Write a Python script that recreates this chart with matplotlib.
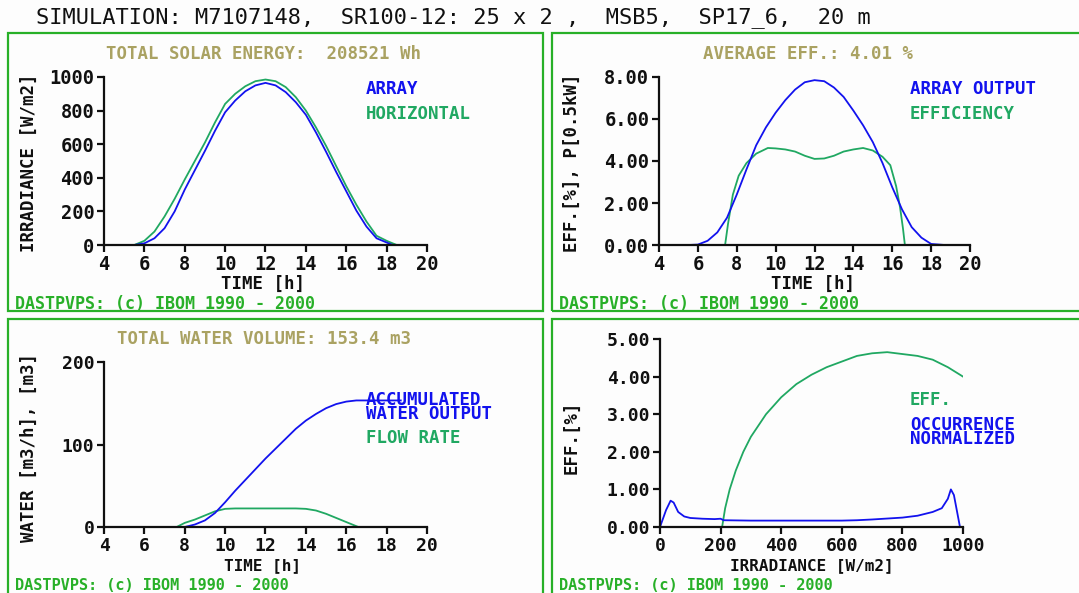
import matplotlib
matplotlib.use("Agg")
import matplotlib.pyplot as plt
from matplotlib.patches import Rectangle

# ---------------- data ----------------
# Panel 1: irradiance vs time
t_arr = [5.5, 6.0, 6.5, 7.0, 7.5, 8.0, 8.5, 9.0, 9.5, 10.0, 10.5, 11.0, 11.5, 12.0,
         12.5, 13.0, 13.5, 14.0, 14.5, 15.0, 15.5, 16.0, 16.5, 17.0, 17.5, 18.0, 18.3, 18.7]
irr_array = [0, 10, 40, 100, 200, 330, 445, 560, 680, 790, 860, 915, 950, 965,
             950, 910, 850, 775, 670, 555, 435, 320, 205, 110, 40, 15, 0, 0]
t_hor = [5.5, 6.0, 6.5, 7.0, 7.5, 8.0, 8.5, 9.0, 9.5, 10.0, 10.5, 11.0, 11.5, 12.0,
         12.5, 13.0, 13.5, 14.0, 14.5, 15.0, 15.5, 16.0, 16.5, 17.0, 17.5, 18.0, 18.5]
irr_hor = [0, 25, 80, 170, 275, 390, 500, 610, 730, 840, 900, 945, 975, 985,
           975, 940, 880, 800, 700, 590, 470, 350, 240, 140, 55, 25, 0]

# Panel 2: array output and efficiency vs time
t_out = [5.5, 6.0, 6.5, 7.0, 7.5, 8.0, 8.5, 9.0, 9.5, 10.0, 10.5, 11.0, 11.5, 12.0,
         12.5, 13.0, 13.5, 14.0, 14.5, 15.0, 15.5, 16.0, 16.5, 17.0, 17.5, 18.0, 18.7]
p_out = [0, 0.02, 0.2, 0.6, 1.3, 2.4, 3.6, 4.75, 5.6, 6.3, 6.9, 7.4, 7.75, 7.85,
         7.8, 7.5, 7.05, 6.4, 5.7, 4.9, 3.9, 2.75, 1.7, 0.85, 0.35, 0.05, 0]
t_eff = [5.5, 7.4, 7.55, 7.8, 8.1, 8.5, 9.0, 9.6, 10.0, 10.5, 11.0, 11.5, 12.0, 12.5,
         13.0, 13.5, 14.0, 14.5, 15.0, 15.5, 15.9, 16.2, 16.4, 16.55, 16.65, 18.7]
eff_t = [0, 0, 1.0, 2.4, 3.3, 3.9, 4.35, 4.62, 4.6, 4.55, 4.45, 4.25, 4.1, 4.12,
         4.25, 4.45, 4.55, 4.62, 4.5, 4.2, 3.8, 2.8, 1.8, 0.8, 0, 0]

# Panel 3: accumulated water and flow rate vs time
t_acc = [5.5, 8.0, 8.5, 9.0, 9.5, 10.0, 10.5, 11.0, 11.5, 12.0, 12.5, 13.0, 13.5,
         14.0, 14.5, 15.0, 15.5, 16.0, 16.5, 18.7]
acc_water = [0, 0, 3, 8, 17, 30, 44, 57, 70, 83, 95, 107, 119, 129, 137, 144, 149, 152, 153.4, 153.4]
t_flow = [7.6, 8.0, 8.5, 9.0, 9.5, 10.0, 10.5, 12.0, 13.5, 14.0, 14.5, 15.0, 15.5, 16.0, 16.6, 18.7]
flow_rate = [0, 5, 9, 14, 19, 22, 22.5, 22.5, 22.5, 22, 20, 16, 11, 6, 0, 0]

# Panel 4: efficiency and occurrence vs irradiance
g_eff = [0, 205, 215, 230, 250, 275, 300, 350, 400, 450, 500, 550, 600, 650, 700,
         750, 800, 850, 900, 950, 1000]
eff_g = [0, 0, 0.5, 1.0, 1.5, 2.0, 2.4, 3.0, 3.45, 3.8, 4.05, 4.25, 4.4, 4.55, 4.62,
         4.65, 4.6, 4.55, 4.45, 4.25, 4.0]
g_occ = [0, 20, 35, 45, 60, 80, 100, 140, 180, 200, 210, 300, 400, 500, 600, 650, 700,
         800, 850, 900, 930, 950, 960, 970, 990]
occ = [0, 0.45, 0.7, 0.65, 0.4, 0.28, 0.24, 0.22, 0.21, 0.22, 0.18, 0.17, 0.17, 0.17,
       0.17, 0.18, 0.2, 0.25, 0.3, 0.4, 0.5, 0.75, 1.0, 0.85, 0]

# ---------------- style ----------------
BLUE = "#1212ee"
GREEN = "#20a862"
OLIVE = "#aaa262"
FRAME = "#28b028"
BLACK = "#101010"
MONO = "DejaVu Sans Mono"
W, H = 1079, 593

fig = plt.figure(figsize=(W / 100, H / 100), dpi=100)
fig.patch.set_facecolor("#fdfdfd")


def px(x, y):
    return x / W, 1 - y / H


def ftext(x, y, s, color=BLACK, size=12.5, weight="bold", ha="left", va="center", rot=0,
          linespacing=1.2):
    fx, fy = px(x, y)
    fig.text(fx, fy, s, color=color, fontsize=size, fontweight=weight, family=MONO,
             ha=ha, va=va, rotation=rot, linespacing=linespacing)


def frame(x0, y0, x1, y1):
    fx0, fy1 = px(x0, y0)
    fx1, fy0 = px(x1, y1)
    fig.add_artist(Rectangle((fx0, fy0), fx1 - fx0, fy1 - fy0, transform=fig.transFigure,
                             fill=False, edgecolor=FRAME, linewidth=1.6, clip_on=False))


def make_ax(x0, y_top, x1, y_bot):
    fx0, fy_top = px(x0, y_top)
    fx1, fy_bot = px(x1, y_bot)
    ax = fig.add_axes([fx0, fy_bot, fx1 - fx0, fy_top - fy_bot])
    ax.set_facecolor("none")
    for s in ("top", "right"):
        ax.spines[s].set_visible(False)
    for s in ("left", "bottom"):
        ax.spines[s].set_color(BLACK)
        ax.spines[s].set_linewidth(1.6)
    ax.tick_params(direction="out", length=5, width=1.6, color=BLACK, pad=2)
    return ax


def style_ticks(ax, size=13.5):
    for lab in ax.get_xticklabels() + ax.get_yticklabels():
        lab.set_family(MONO)
        lab.set_fontweight("bold")
        lab.set_fontsize(size)
        lab.set_color(BLACK)


# frames
frame(8, 33, 543, 311)
frame(552, 33, 1100, 311)
frame(8, 319, 543, 610)
frame(552, 319, 1100, 610)

# title
ftext(453, 18, "SIMULATION: M7107148,  SR100-12: 25 x 2 ,  MSB5,  SP17_6,  20 m",
      size=15.8, weight="normal", ha="center")

FOOT = "DASTPVPS: (c) IBOM 1990 - 2000"

# ---- Panel 1 ----
ax1 = make_ax(104, 77, 427, 245)
ax1.plot(t_hor, irr_hor, color=GREEN, lw=1.3)
ax1.plot(t_arr, irr_array, color=BLUE, lw=1.3)
ax1.set_xlim(4, 20)
ax1.set_ylim(0, 1000)
ax1.set_xticks(range(4, 21, 2))
ax1.set_yticks(range(0, 1001, 200))
style_ticks(ax1)
ftext(264, 54, "TOTAL SOLAR ENERGY:  208521 Wh", color=OLIVE, ha="center")
ftext(366, 89, "ARRAY", color=BLUE)
ftext(366, 114, "HORIZONTAL", color=GREEN)
ftext(29, 163, "IRRADIANCE [W/m2]", rot=90, ha="center")
ftext(263, 284, "TIME [h]", ha="center")
ftext(15, 304, FOOT, color=FRAME, size=12)

# ---- Panel 2 ----
ax2 = make_ax(659, 77, 970, 245)
ax2.plot(t_eff, eff_t, color=GREEN, lw=1.3)
ax2.plot(t_out, p_out, color=BLUE, lw=1.3)
ax2.set_xlim(4, 20)
ax2.set_ylim(0, 8)
ax2.set_xticks(range(4, 21, 2))
ax2.set_yticks([0, 2, 4, 6, 8])
ax2.set_yticklabels(["0.00", "2.00", "4.00", "6.00", "8.00"])
style_ticks(ax2)
ftext(808, 54, "AVERAGE EFF.: 4.01 %", color=OLIVE, ha="center")
ftext(910, 89, "ARRAY OUTPUT", color=BLUE)
ftext(910, 114, "EFFICIENCY", color=GREEN)
ftext(572, 163, "EFF.[%], P[0.5kW]", rot=90, ha="center")
ftext(813, 284, "TIME [h]", ha="center")
ftext(559, 304, FOOT, color=FRAME, size=12)

# ---- Panel 3 ----
ax3 = make_ax(104, 362, 427, 527)
ax3.plot(t_flow, flow_rate, color=GREEN, lw=1.3)
ax3.plot(t_acc, acc_water, color=BLUE, lw=1.3)
ax3.set_xlim(4, 20)
ax3.set_ylim(0, 200)
ax3.set_xticks(range(4, 21, 2))
ax3.set_yticks([0, 100, 200])
style_ticks(ax3, 13)
ftext(264, 339, "TOTAL WATER VOLUME: 153.4 m3", color=OLIVE, ha="center")
ftext(366, 407, "ACCUMULATED\nWATER OUTPUT", color=BLUE, linespacing=0.78)
ftext(366, 438, "FLOW RATE", color=GREEN)
ftext(29, 448, "WATER [m3/h], [m3]", rot=90, ha="center")
ftext(263, 566, "TIME [h]", ha="center", size=11.5)
ftext(15, 593, FOOT, color=FRAME, size=11, va="bottom")

# ---- Panel 4 ----
ax4 = make_ax(660, 339, 963, 527)
ax4.plot(g_eff, eff_g, color=GREEN, lw=1.3)
ax4.plot(g_occ, occ, color=BLUE, lw=1.3)
ax4.set_xlim(0, 1000)
ax4.set_ylim(0, 5)
ax4.set_xticks(range(0, 1001, 200))
ax4.set_yticks([0, 1, 2, 3, 4, 5])
ax4.set_yticklabels(["0.00", "1.00", "2.00", "3.00", "4.00", "5.00"])
style_ticks(ax4, 13)
ftext(910, 400, "EFF.", color=GREEN)
ftext(910, 432, "OCCURRENCE\nNORMALIZED", color=BLUE, linespacing=0.78)
ftext(572, 437, "EFF.[%]", rot=90, ha="center")
ftext(812, 566, "IRRADIANCE [W/m2]", ha="center", size=11.5)
ftext(559, 593, FOOT, color=FRAME, size=11, va="bottom")

fig.savefig("out.png", dpi=100, facecolor=fig.get_facecolor())
